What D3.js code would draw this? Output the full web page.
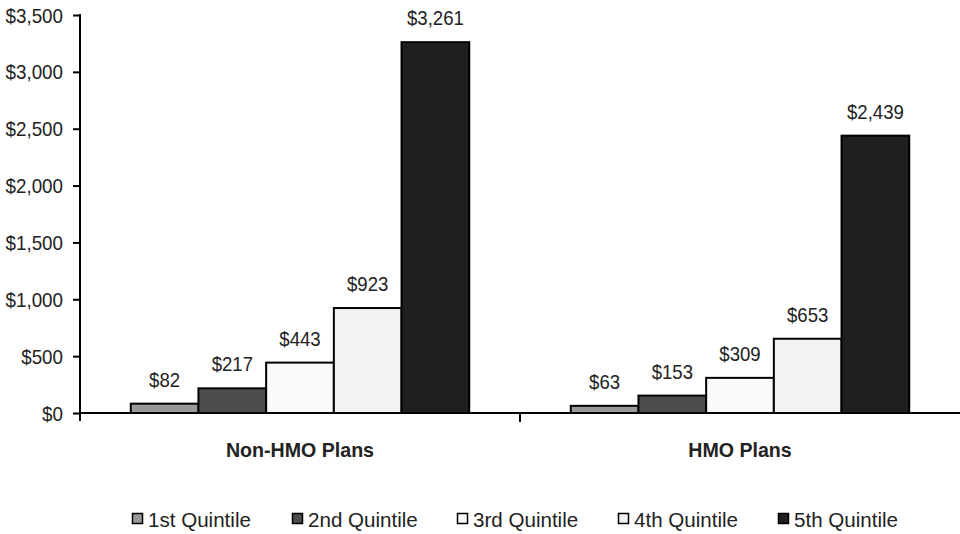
<!DOCTYPE html>
<html>
<head>
<meta charset="utf-8">
<script src="https://cdn.jsdelivr.net/npm/d3@7"></script>
<style>
  html, body { margin: 0; padding: 0; background: #fff; }
  svg text { font-family: "Liberation Sans", Arial, sans-serif; fill: #222; }
</style>
</head>
<body>
<svg id="chart" width="960" height="534"></svg>
<script>
// Plan types along the x axis
const plans = ["Non-HMO Plans", "HMO Plans"];
// Spending quintiles (one bar per quintile in each plan)
const quintiles = ["1st Quintile", "2nd Quintile", "3rd Quintile", "4th Quintile", "5th Quintile"];
// Values per quintile, in plan order
const nonHmoValues = [82, 217, 443, 923, 3261];
const hmoValues = [63, 153, 309, 653, 2439];
// Y axis ticks
const yTicks = [0, 500, 1000, 1500, 2000, 2500, 3000, 3500];
const quintileColors = ["#999999", "#4d4d4d", "#fafafa", "#f2f2f2", "#1f1f1f"];

const rows = plans.map((p, i) => ({
  plan: p,
  values: (i === 0 ? nonHmoValues : hmoValues).map((v, j) => ({ q: quintiles[j], v }))
}));

const svg = d3.select("#chart");
const plotLeft = 80, plotTop = 15, plotBottom = 413;
const FS = 20; // label font size

// Condense text horizontally around its anchor point
function narrow(sel, k) {
  sel.each(function () {
    const t = d3.select(this);
    const x = +t.attr("x") || 0, y = +t.attr("y") || 0;
    t.attr("x", 0).attr("y", 0).attr("transform", `translate(${x},${y}) scale(${k},1)`);
  });
}

const x0 = d3.scaleBand().domain(plans).range([plotLeft, 960]);
const x1 = d3.scaleBand().domain(quintiles).range([0, x0.bandwidth()]).paddingInner(0).paddingOuter(0.75);
const y = d3.scaleLinear().domain([0, 3500]).range([plotBottom, plotTop]);

const fmt = d3.format("$,");

// Bars
const groups = svg.append("g").selectAll("g").data(rows).join("g")
  .attr("transform", d => `translate(${x0(d.plan)},0)`);

groups.selectAll("rect").data(d => d.values).join("rect")
  .attr("x", d => x1(d.q))
  .attr("y", d => y(d.v))
  .attr("width", x1.bandwidth())
  .attr("height", d => y(0) - y(d.v))
  .attr("fill", (d, i) => quintileColors[i])
  .attr("stroke", "#000")
  .attr("stroke-width", 2);

groups.selectAll("text").data(d => d.values).join("text")
  .attr("x", d => x1(d.q) + x1.bandwidth() / 2)
  .attr("y", d => y(d.v) - 17)
  .attr("text-anchor", "middle")
  .attr("font-size", FS)
  .text(d => fmt(d.v))
  .call(narrow, 0.93);

// Y axis
const yAxis = d3.axisLeft(y).tickValues(yTicks).tickFormat(fmt).tickSize(7).tickPadding(10);
const yg = svg.append("g").attr("transform", `translate(${plotLeft},0)`).call(yAxis);
yg.select(".domain").remove();
yg.selectAll(".tick line").attr("stroke", "#000").attr("stroke-width", 2);
yg.selectAll(".tick text")
  .attr("font-size", FS).attr("fill", "#222").attr("font-family", null)
  .attr("dy", null).attr("y", 7)
  .call(narrow, 0.94);
yg.append("line").attr("x1", 0).attr("x2", 0).attr("y1", plotTop - 1).attr("y2", y(0) + 8)
  .attr("stroke", "#000").attr("stroke-width", 2);

// X axis baseline with group separators
const xg = svg.append("g");
xg.append("line").attr("x1", plotLeft).attr("x2", 960).attr("y1", y(0)).attr("y2", y(0))
  .attr("stroke", "#000").attr("stroke-width", 2);
xg.selectAll("line.sep").data(plans.slice(1)).join("line").attr("class", "sep")
  .attr("x1", d => x0(d)).attr("x2", d => x0(d))
  .attr("y1", y(0)).attr("y2", y(0) + 9)
  .attr("stroke", "#000").attr("stroke-width", 2);
xg.selectAll("text").data(plans).join("text")
  .attr("x", d => x0(d) + x0.bandwidth() / 2)
  .attr("y", 457)
  .attr("text-anchor", "middle")
  .attr("font-size", FS)
  .attr("font-weight", "bold")
  .text(d => d)
  .call(narrow, 0.98);

// Legend
const legendX = [132, 292, 457, 618, 778];
const lg = svg.append("g").selectAll("g").data(quintiles).join("g")
  .attr("transform", (d, i) => `translate(${legendX[i]},513)`);
lg.append("rect").attr("x", 0.5).attr("y", 0.5).attr("width", 10).attr("height", 10)
  .attr("fill", (d, i) => quintileColors[i]).attr("stroke", "#000").attr("stroke-width", 1.5);
lg.append("text").attr("x", 16).attr("y", 14).attr("font-size", 21).text(d => d)
  .call(narrow, 0.98);
</script>
</body>
</html>
